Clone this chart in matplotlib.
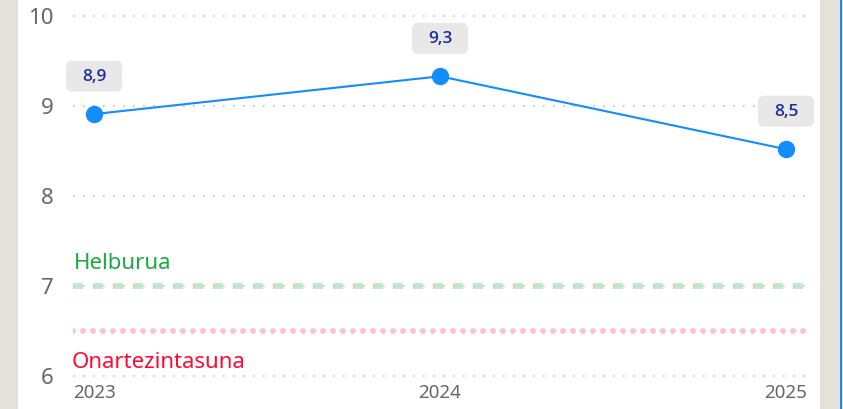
import matplotlib
matplotlib.use("Agg")
import matplotlib.pyplot as plt
from matplotlib.patches import Rectangle, FancyBboxPatch
from matplotlib.transforms import ScaledTranslation

years = [2023, 2024, 2025]
values = [8.91, 9.33, 8.52]
labels = ["8,9", "9,3", "8,5"]
goal = 7.0
goal_label = "Helburua"
limit = 6.5
limit_label = "Onartezintasuna"
y_ticks = [6, 7, 8, 9, 10]

plt.rcParams["font.family"] = ["Noto Sans", "DejaVu Sans"]
plt.rcParams["lines.scale_dashes"] = False

W, H = 843, 409
fig = plt.figure(figsize=(W / 100, H / 100), dpi=100, facecolor="#E4E0DA")

# white card + blue edge on the right
fig.patches.append(Rectangle((18 / W, 0), (820 - 18) / W, 1, transform=fig.transFigure,
                             facecolor="white", edgecolor="none", zorder=-10))
fig.patches.append(Rectangle((840 / W, 0), 2 / W, 1, transform=fig.transFigure,
                             facecolor="#118DFF", edgecolor="none", zorder=-10))

ax = fig.add_axes([73 / W, (H - 380) / H, (806 - 73) / W, 380 / H])
ax.set_zorder(1)
ax.set_facecolor("none")
px_year = 346
ax.set_xlim(2023 - 21 / px_year, 2025 + 20 / px_year)
ax.set_ylim(6 - 4 / 90, 10 + 16 / 90)
for s in ax.spines.values():
    s.set_visible(False)

ax.set_yticks(y_ticks)
ax.set_yticklabels([str(v) for v in y_ticks])
ax.set_xticks(years)
ax.set_xticklabels([str(y) for y in years])
ax.tick_params(axis="y", length=0, pad=14, labelsize=16, labelcolor="#666666")
ax.tick_params(axis="x", length=0, pad=3, labelsize=13.5, labelcolor="#666666")

# dotted grid
for v in y_ticks:
    ax.axhline(v, color="#C4C4C4", lw=1.2, linestyle=(0, (1.2, 6.0)), zorder=2)

# reference lines
ax.axhline(goal, color="#C3E8CD", lw=4.3, linestyle=(0, (7.2, 7.2)), zorder=1)
ax.axhline(limit, color="#FFC2CB", lw=4.3, linestyle=(0, (0.01, 7.19)),
           dash_capstyle="round", zorder=1)
ax.text(2023 - 20 / px_year, goal + 0.19, goal_label, color="#1AAB40", fontsize=16,
        va="baseline", ha="left")
ax.text(2023 - 22 / px_year, limit - 0.41, limit_label, color="#FF0A32", fontsize=16,
        va="baseline", ha="left")

# main series
ax.plot(years, values, color="#118DFF", lw=1.5, marker="o", markersize=11.5,
        zorder=4, clip_on=False)

# data labels in rounded grey boxes
for x, y, t in zip(years, values, labels):
    tr = fig.dpi_scale_trans + ScaledTranslation(x, y, ax.transData)
    box = FancyBboxPatch((-0.28, 0.38 - 0.155), 0.56, 0.31,
                         boxstyle="round,pad=0,rounding_size=0.06",
                         transform=tr, facecolor="#E8E8E8", edgecolor="none",
                         zorder=5, clip_on=False)
    ax.add_artist(box)
    ax.text(0, 0.375, t, transform=tr, ha="center", va="center", fontsize=12.5,
            family=["Open Sans", "DejaVu Sans"], fontweight="semibold",
            color="#1F2D9C", zorder=6, clip_on=False)

fig.savefig("out.png", dpi=100, facecolor=fig.get_facecolor())
